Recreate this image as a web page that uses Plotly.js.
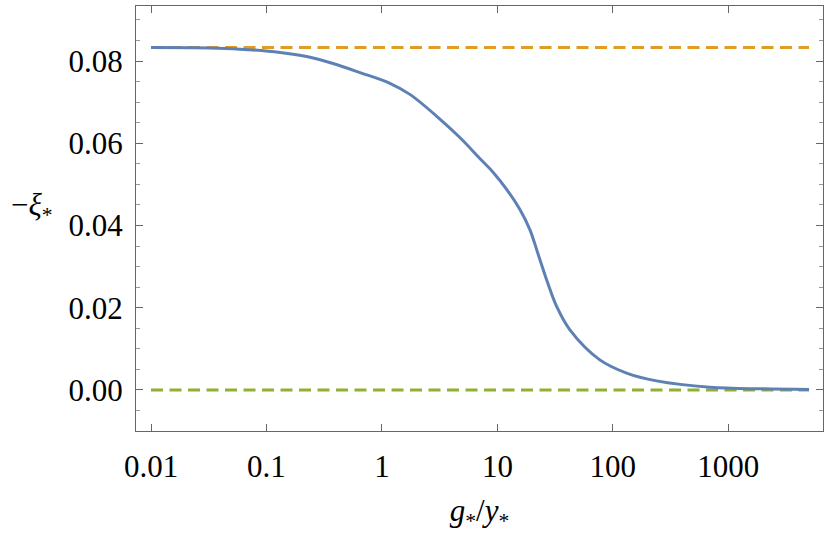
<!DOCTYPE html>
<html>
<head>
<meta charset="utf-8">
<script src="https://cdn.plot.ly/plotly-3.0.1.min.js"></script>
<style>
  html, body { margin: 0; padding: 0; background: #fff; }
  #chart { width: 830px; height: 533px; }
  #chart svg text { font-family: "Liberation Serif", "DejaVu Serif", serif !important; }
</style>
</head>
<body>
<div id="chart"></div>
<script>
// g*/y* ratio and -xi*
const ratio = [0.01, 0.0316, 0.0589, 0.131, 0.223, 0.377, 0.646, 1.172, 1.746, 3.177, 4.732, 7.047, 9.204, 12.02, 15.67, 19.10, 22.54, 26.67, 32.58, 42.46, 77.1, 131.5, 239, 692, 2000, 5000];
const xi = [0.0833, 0.0832, 0.0829, 0.0821, 0.0811, 0.0794, 0.0772, 0.0746, 0.0719, 0.0659, 0.0614, 0.0563, 0.0529, 0.0488, 0.0439, 0.0390, 0.0330, 0.0268, 0.0203, 0.0146, 0.0073, 0.0041, 0.0022, 0.00065, 0.00025, 0.0001];

// asymptotes
const limitX = [0.01, 5000];
const upperLimit = [1 / 12, 1 / 12];
const lowerLimit = [0, 0];

const xTicks = [0.01, 0.1, 1, 10, 100, 1000];
const xTickText = ['0.01', '0.1', '1', '10', '100', '1000'];
const yTicks = [0, 0.02, 0.04, 0.06, 0.08];
const yTickText = ['0.00', '0.02', '0.04', '0.06', '0.08'];

const font = 'Liberation Serif';
const frame = '#666666';

const traces = [
  {
    x: limitX, y: upperLimit, mode: 'lines',
    line: { color: '#e19c24', width: 3, dash: '12px,6.5px' }
  },
  {
    x: limitX, y: lowerLimit, mode: 'lines',
    line: { color: '#8fb032', width: 3, dash: '12px,6.5px' }
  },
  {
    x: ratio, y: xi, mode: 'lines',
    line: { color: '#5e81b5', width: 3, shape: 'spline', smoothing: 1 }
  }
];

const layout = {
  width: 830,
  height: 533,
  margin: { l: 136, r: 7, t: 6, b: 102 },
  paper_bgcolor: '#ffffff',
  plot_bgcolor: '#ffffff',
  showlegend: false,
  font: { family: font, color: '#000', size: 31 },
  xaxis: {
    type: 'log',
    range: [-2.13, 3.82],
    tickvals: xTicks,
    ticktext: xTickText,
    tickfont: { family: font, size: 31 },
    ticks: 'inside',
    ticklen: 7,
    tickcolor: frame,
    showline: true,
    linecolor: frame,
    linewidth: 1,
    mirror: 'ticks',
    showgrid: false,
    zeroline: false,
    ticklabelstandoff: 8,
    title: { text: '<i>g</i><sub>*</sub>/<i>y</i><sub>*</sub>', font: { family: font, size: 31 }, standoff: 18 }
  },
  yaxis: {
    range: [-0.01, 0.0934],
    tickvals: yTicks,
    ticktext: yTickText,
    tickfont: { family: font, size: 31 },
    ticks: 'inside',
    ticklen: 7,
    tickcolor: frame,
    showline: true,
    linecolor: frame,
    linewidth: 1,
    mirror: 'ticks',
    showgrid: false,
    zeroline: false,
    ticklabelstandoff: 6,
    minor: { ticks: 'inside', dtick: 0.005, ticklen: 4, tickcolor: '#999999', showgrid: false }
  },
  annotations: [
    {
      text: '−<i>ξ</i><sub>*</sub>',
      xref: 'paper', yref: 'paper',
      x: -0.152, y: 0.527,
      xanchor: 'center', yanchor: 'middle',
      showarrow: false,
      font: { family: font, size: 31, color: '#000' }
    }
  ]
};

Plotly.newPlot('chart', traces, layout, { displayModeBar: false, staticPlot: true });
</script>
</body>
</html>
